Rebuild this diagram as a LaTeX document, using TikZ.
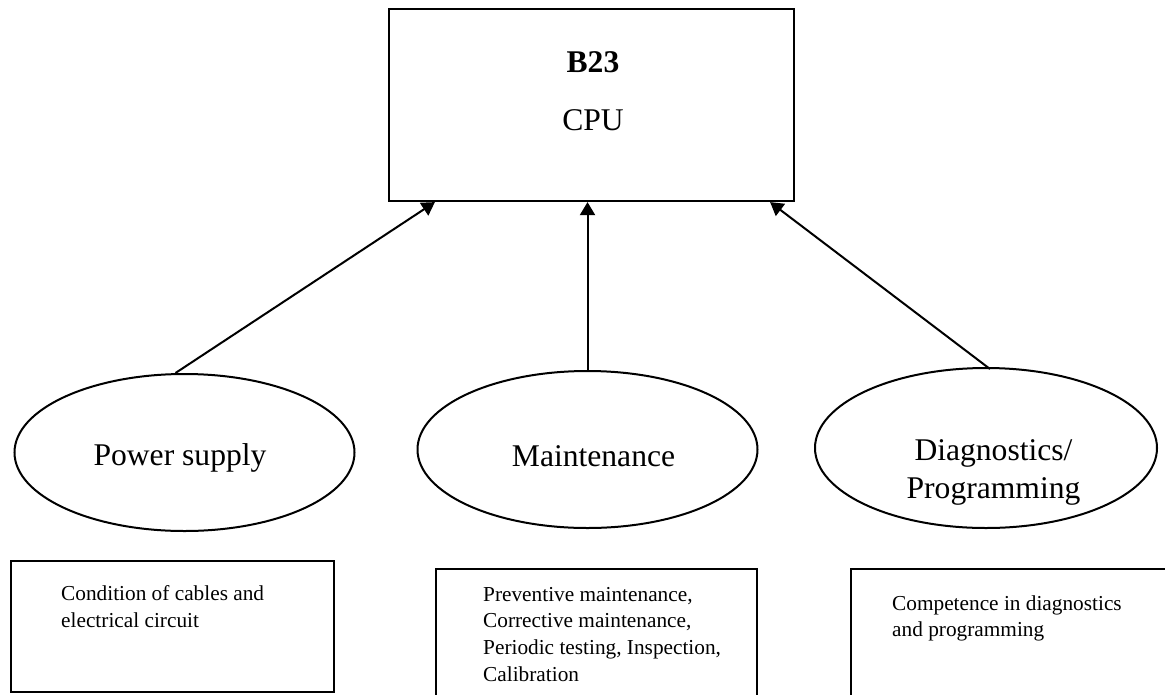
\documentclass[tikz,border=0pt]{standalone}
\usepackage{fontspec}
\setmainfont{Liberation Serif}
\usetikzlibrary{shapes.geometric,arrows.meta}

\tikzset{
  cpubox/.style={draw, line width=2.2pt, minimum width=405pt, minimum height=192pt, inner sep=0pt},
  topic/.style={draw, ellipse, line width=2pt, inner sep=0pt},
  infobox/.style={draw, line width=2.4pt, inner sep=0pt, anchor=north west},
  bigtext/.style={font=\fontsize{31.6}{38}\selectfont, inner sep=0pt, anchor=base},
  % anchor "base" of a multi-line node sits on its last line
  smalltext/.style={font=\fontsize{21.3}{26.6}\selectfont, inner sep=0pt, align=left, anchor=base west},
  link/.style={line width=2pt, -{Triangle[length=13pt,width=15pt]}}
}

\begin{document}
\begin{tikzpicture}[x=1pt, y=-1pt]
  \clip (0,0) rectangle (1165,694);
  \fill[white] (0,0) rectangle (1165,694);

  % central unit
  \node[cpubox] (cpu) at (591.5,105) {};
  \node[bigtext, font=\fontsize{31.6}{38}\selectfont\bfseries] (cpuid) at (593,72) {B23};
  \node[bigtext] (cpuname) at (593,130) {CPU};

  % influencing factors
  \node[topic, minimum width=340pt, minimum height=157pt] (power) at (184.5,452.5) {};
  \node[topic, minimum width=340pt, minimum height=157pt] (maint) at (587.5,449.5) {};
  \node[topic, minimum width=342pt, minimum height=160pt] (diag) at (986,448) {};

  \node[bigtext] (powerlbl) at (180,465) {Power supply};
  \node[bigtext] (maintlbl) at (593.5,466) {Maintenance};
  \node[bigtext] (diaglbl1) at (993.5,460) {Diagnostics/};
  \node[bigtext] (diaglbl2) at (993.5,498) {Programming};

  % arrows into the central unit
  \draw[link] (power.north) ++(-9,0) coordinate (p0) -- ([xshift=47pt]cpu.south west);
  \draw[link] (maint.north) -- (maint.north |- cpu.south);
  \draw[link] (diag.north) ++(4,2) coordinate (d0) -- ([xshift=-25pt]cpu.south east);

  % detail boxes
  \node[infobox, minimum width=323pt, minimum height=131pt] (powerbox) at (10,560) {};
  \node[infobox, minimum width=321pt, minimum height=160pt] (maintbox) at (435,568) {};
  \node[infobox, minimum width=340pt, minimum height=160pt] (diagbox) at (850,568) {};

  \node[smalltext] (powertxt) at (61,627) {Condition of cables and\\electrical circuit};
  \node[smalltext] (mainttxt) at (483,681) {Preventive maintenance,\\Corrective maintenance,\\Periodic testing, Inspection,\\Calibration};
  \node[smalltext] (diagtxt) at (892,636.7) {Competence in diagnostics\\and programming};
\end{tikzpicture}
\end{document}
